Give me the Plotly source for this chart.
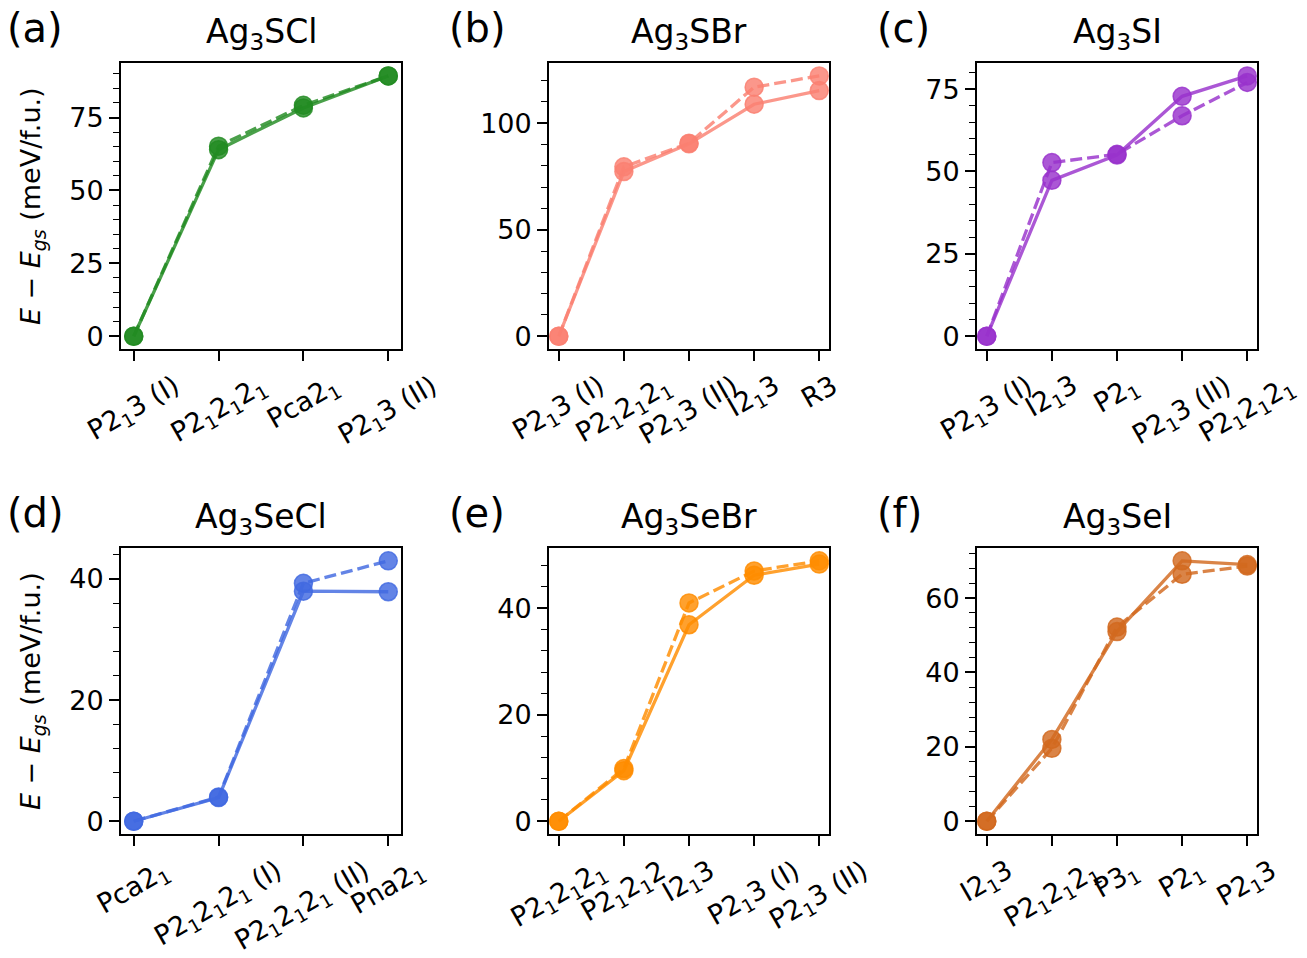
import plotly.graph_objects as go

# ---------------- data ----------------
titles = ["Ag<sub>3</sub>SCl", "Ag<sub>3</sub>SBr", "Ag<sub>3</sub>SI",
          "Ag<sub>3</sub>SeCl", "Ag<sub>3</sub>SeBr", "Ag<sub>3</sub>SeI"]
panel_labels = ["(a)", "(b)", "(c)", "(d)", "(e)", "(f)"]

cat_a = ["P2<sub>1</sub>3 (I)", "P2<sub>1</sub>2<sub>1</sub>2<sub>1</sub>", "Pca2<sub>1</sub>", "P2<sub>1</sub>3 (II)"]
cat_b = ["P2<sub>1</sub>3 (I)", "P2<sub>1</sub>2<sub>1</sub>2<sub>1</sub>", "P2<sub>1</sub>3 (II)", "I2<sub>1</sub>3", "R3"]
cat_c = ["P2<sub>1</sub>3 (I)", "I2<sub>1</sub>3", "P2<sub>1</sub>", "P2<sub>1</sub>3 (II)", "P2<sub>1</sub>2<sub>1</sub>2<sub>1</sub>"]
cat_d = ["Pca2<sub>1</sub>", "P2<sub>1</sub>2<sub>1</sub>2<sub>1</sub> (I)", "P2<sub>1</sub>2<sub>1</sub>2<sub>1</sub> (II)", "Pna2<sub>1</sub>"]
cat_e = ["P2<sub>1</sub>2<sub>1</sub>2<sub>1</sub>", "P2<sub>1</sub>2<sub>1</sub>2", "I2<sub>1</sub>3", "P2<sub>1</sub>3 (I)", "P2<sub>1</sub>3 (II)"]
cat_f = ["I2<sub>1</sub>3", "P2<sub>1</sub>2<sub>1</sub>2<sub>1</sub>", "P3<sub>1</sub>", "P2<sub>1</sub>", "P2<sub>1</sub>3"]

a_solid = [0, 64.0, 78.3, 89.3]
a_dash = [0, 65.2, 79.2, 89.3]
b_solid = [0, 77.3, 90.3, 108.9, 115.3]
b_dash = [0, 79.5, 90.6, 116.9, 122.2]
c_solid = [0, 47.3, 55.0, 72.8, 79.0]
c_dash = [0, 52.7, 55.2, 66.9, 77.0]
d_solid = [0, 3.9, 38.0, 37.9]
d_dash = [0, 4.0, 39.3, 43.0]
e_solid = [0, 9.5, 36.9, 46.2, 48.3]
e_dash = [0, 9.9, 41.0, 47.0, 48.9]
f_solid = [0, 22.0, 51.0, 70.0, 69.0]
f_dash = [0, 19.6, 52.2, 66.4, 68.6]

major_dtick = [25, 50, 25, 20, 20, 20]
minor_dtick = [5, 10, 5, 4, 4, 4]

# ---------------- style ----------------
colors_rgb = [(34, 139, 34), (250, 128, 114), (153, 50, 204),
              (65, 105, 225), (255, 140, 0), (210, 105, 30)]
ALPHA = 0.82
FONT = "DejaVu Sans"
W, H = 1307, 958
col_px = [(121, 401), (549, 829), (977, 1257)]
row_px = [(63, 350), (549, 836)]

panels = [
    (cat_a, a_solid, a_dash), (cat_b, b_solid, b_dash), (cat_c, c_solid, c_dash),
    (cat_d, d_solid, d_dash), (cat_e, e_solid, e_dash), (cat_f, f_solid, f_dash),
]

fig = go.Figure()
annotations = []

for i, (cats, ys, yd) in enumerate(panels):
    r, c = divmod(i, 3)
    n = i + 1
    xs = "" if n == 1 else str(n)
    xref, yref = "x" + xs, "y" + xs
    rgba = "rgba(%d,%d,%d,%.2f)" % (*colors_rgb[i], ALPHA)

    for vals, dash in ((yd, "12px,5px"), (ys, "solid")):
        fig.add_trace(go.Scatter(
            x=cats, y=vals, xaxis=xref, yaxis=yref, mode="lines+markers",
            line=dict(color=rgba, width=3.3, dash=dash),
            marker=dict(size=18, color=rgba, line=dict(color=rgba, width=1.5)),
            showlegend=False, hoverinfo="skip"))

    x0, x1 = col_px[c]
    y0, y1 = row_px[r]
    allv = list(ys) + list(yd)
    lo, hi = min(allv), max(allv)
    pad = 0.05 * (hi - lo)
    ncat = len(cats)

    axis_common = dict(showline=True, linecolor="black", linewidth=1.8, mirror=True,
                       ticks="outside", ticklen=10, tickwidth=1.8, tickcolor="black",
                       showgrid=False, zeroline=False)
    fig.layout["xaxis" + xs] = dict(
        axis_common, domain=[x0 / W, x1 / W], anchor=yref, type="category",
        categoryorder="array", categoryarray=cats,
        range=[-0.15, ncat - 1 + 0.15], showticklabels=False)
    fig.layout["yaxis" + xs] = dict(
        axis_common, domain=[1 - y1 / H, 1 - y0 / H], anchor=xref,
        range=[lo - pad, hi + pad], tick0=0, dtick=major_dtick[i],
        tickfont=dict(family=FONT, size=27, color="black"),
        minor=dict(dtick=minor_dtick[i], tick0=0, ticks="outside", ticklen=6,
                   tickwidth=1.4, tickcolor="black", showgrid=False))

    # rotated category labels (matplotlib-style centred rotation)
    for cat in cats:
        annotations.append(dict(
            x=cat, y=0, xref=xref, yref=yref + " domain", text=cat,
            textangle=-30, xanchor="center", yanchor="top", yshift=-17,
            showarrow=False, font=dict(family=FONT, size=27, color="black")))

    # subplot title
    annotations.append(dict(
        x=0.5, y=1, xref=xref + " domain", yref=yref + " domain", text=titles[i],
        xanchor="center", yanchor="bottom", yshift=6, showarrow=False,
        font=dict(family=FONT, size=33, color="black")))

    # panel label
    annotations.append(dict(
        x=(x0 - 121 + 5) / W if c == 0 else (x0 - 102) / W,
        y=1 - (y0 - 60) / H, xref="paper", yref="paper", text=panel_labels[i],
        xanchor="left", yanchor="top", showarrow=False,
        font=dict(family=FONT, size=40, color="black")))

    if c == 0:
        annotations.append(dict(
            x=32 / W, y=0.5, xref="paper", yref=yref + " domain",
            text="<i>E</i> \u2212 <i>E</i><sub><i>gs</i></sub> (meV/f.u.)",
            textangle=-90, xanchor="center", yanchor="middle", showarrow=False,
            font=dict(family=FONT, size=27, color="black")))

fig.update_layout(
    width=W, height=H, margin=dict(l=0, r=0, t=0, b=0),
    paper_bgcolor="white", plot_bgcolor="white",
    font=dict(family=FONT, size=27, color="black"),
    annotations=annotations)

fig.write_html("out.html", config={"displayModeBar": False},
               post_script="document.body.style.margin='0px';document.body.style.overflow='hidden';")
